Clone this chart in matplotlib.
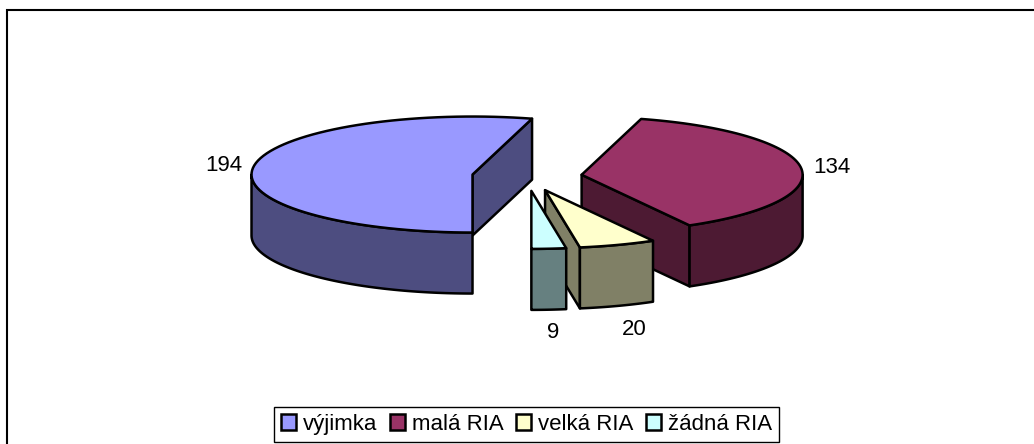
import numpy as np
import matplotlib
matplotlib.use('Agg')
import matplotlib.pyplot as plt
from matplotlib.patches import Patch, Polygon

plt.rcParams['font.family'] = ['Liberation Sans', 'DejaVu Sans']

labels = ['výjimka', 'malá RIA', 'velká RIA', 'žádná RIA']
values = [194, 134, 20, 9]
top_colors = ['#9999FF', '#993366', '#FFFFCC', '#CCFFFF']
side_colors = ['#4D4D80', '#4D1A33', '#808066', '#668080']

# where the value labels sit, in pixels
label_pos = [(224, 165), (832, 167), (634, 329), (553, 332)]

# pie geometry in pixels
cx, cy = 527, 176.5
rx, ry = 221, 58
depth = 61
explode = 55

fig = plt.figure(figsize=(10.34, 4.44), dpi=100)
ax = fig.add_axes([0, 0, 1, 1])
ax.set_xlim(0, 1034)
ax.set_ylim(444, 0)
ax.axis('off')

# chart frame, the right and bottom sides are cut off
ax.plot([7, 7, 1034], [444, 10.5, 10.5], color='black', lw=1.5, solid_joinstyle='miter')


def rim(x0, y0, a0, a1):
    t = np.radians(np.linspace(a0, a1, 80))
    return x0 + rx * np.sin(t), y0 - ry * np.cos(t)


def draw_face(xs, ys, color, z):
    pts = np.column_stack([np.r_[xs, xs[::-1]], np.r_[ys, ys[::-1] + depth]])
    ax.add_patch(Polygon(pts, closed=True, fc=color, ec='black', lw=1.8, joinstyle='round', zorder=z))


start = 180.0
total = sum(values)
for i, v in enumerate(values):
    end = start + v / total * 360
    mid = np.radians((start + end) / 2)
    x0 = cx + explode * np.sin(mid)
    y0 = cy - explode * ry / rx * np.cos(mid)
    z = i + 1

    # radial side faces, only the ones turned towards the viewer
    if np.sin(np.radians(start)) < -1e-6:
        xr, yr = rim(x0, y0, start, start)
        draw_face(np.array([x0, xr[0]]), np.array([y0, yr[0]]), side_colors[i], z)
    if np.sin(np.radians(end)) > 1e-6:
        xr, yr = rim(x0, y0, end, end)
        draw_face(np.array([x0, xr[0]]), np.array([y0, yr[0]]), side_colors[i], z)

    # outer wall, front half of the ellipse only (angles run past 360 here)
    for lo, hi in [(90, 270), (450, 630)]:
        a0 = max(start, lo)
        a1 = min(end, hi)
        if a1 > a0:
            xr, yr = rim(x0, y0, a0, a1)
            draw_face(xr, yr, side_colors[i], z)

    # top
    xr, yr = rim(x0, y0, start, end)
    pts = np.column_stack([np.r_[x0, xr], np.r_[y0, yr]])
    ax.add_patch(Polygon(pts, closed=True, fc=top_colors[i], ec='black', lw=1.8, joinstyle='round', zorder=z))

    ax.text(label_pos[i][0], label_pos[i][1], str(v), fontsize=16, ha='center', va='center', color='black')
    start = end

handles = [Patch(fc=c, ec='black', lw=1.8) for c in top_colors]
leg = ax.legend(handles, labels, loc='lower center', bbox_to_anchor=(526.5 / 1034, 2.3 / 444), bbox_transform=fig.transFigure,
                ncol=4, fontsize=16, frameon=True, fancybox=False, shadow=False, edgecolor='black', framealpha=1,
                handlelength=0.7, handleheight=0.7, handletextpad=0.3, columnspacing=0.55, borderpad=0.3, borderaxespad=0)
leg.get_frame().set_linewidth(1.0)

fig.savefig('out.png', dpi=100, facecolor='white')
